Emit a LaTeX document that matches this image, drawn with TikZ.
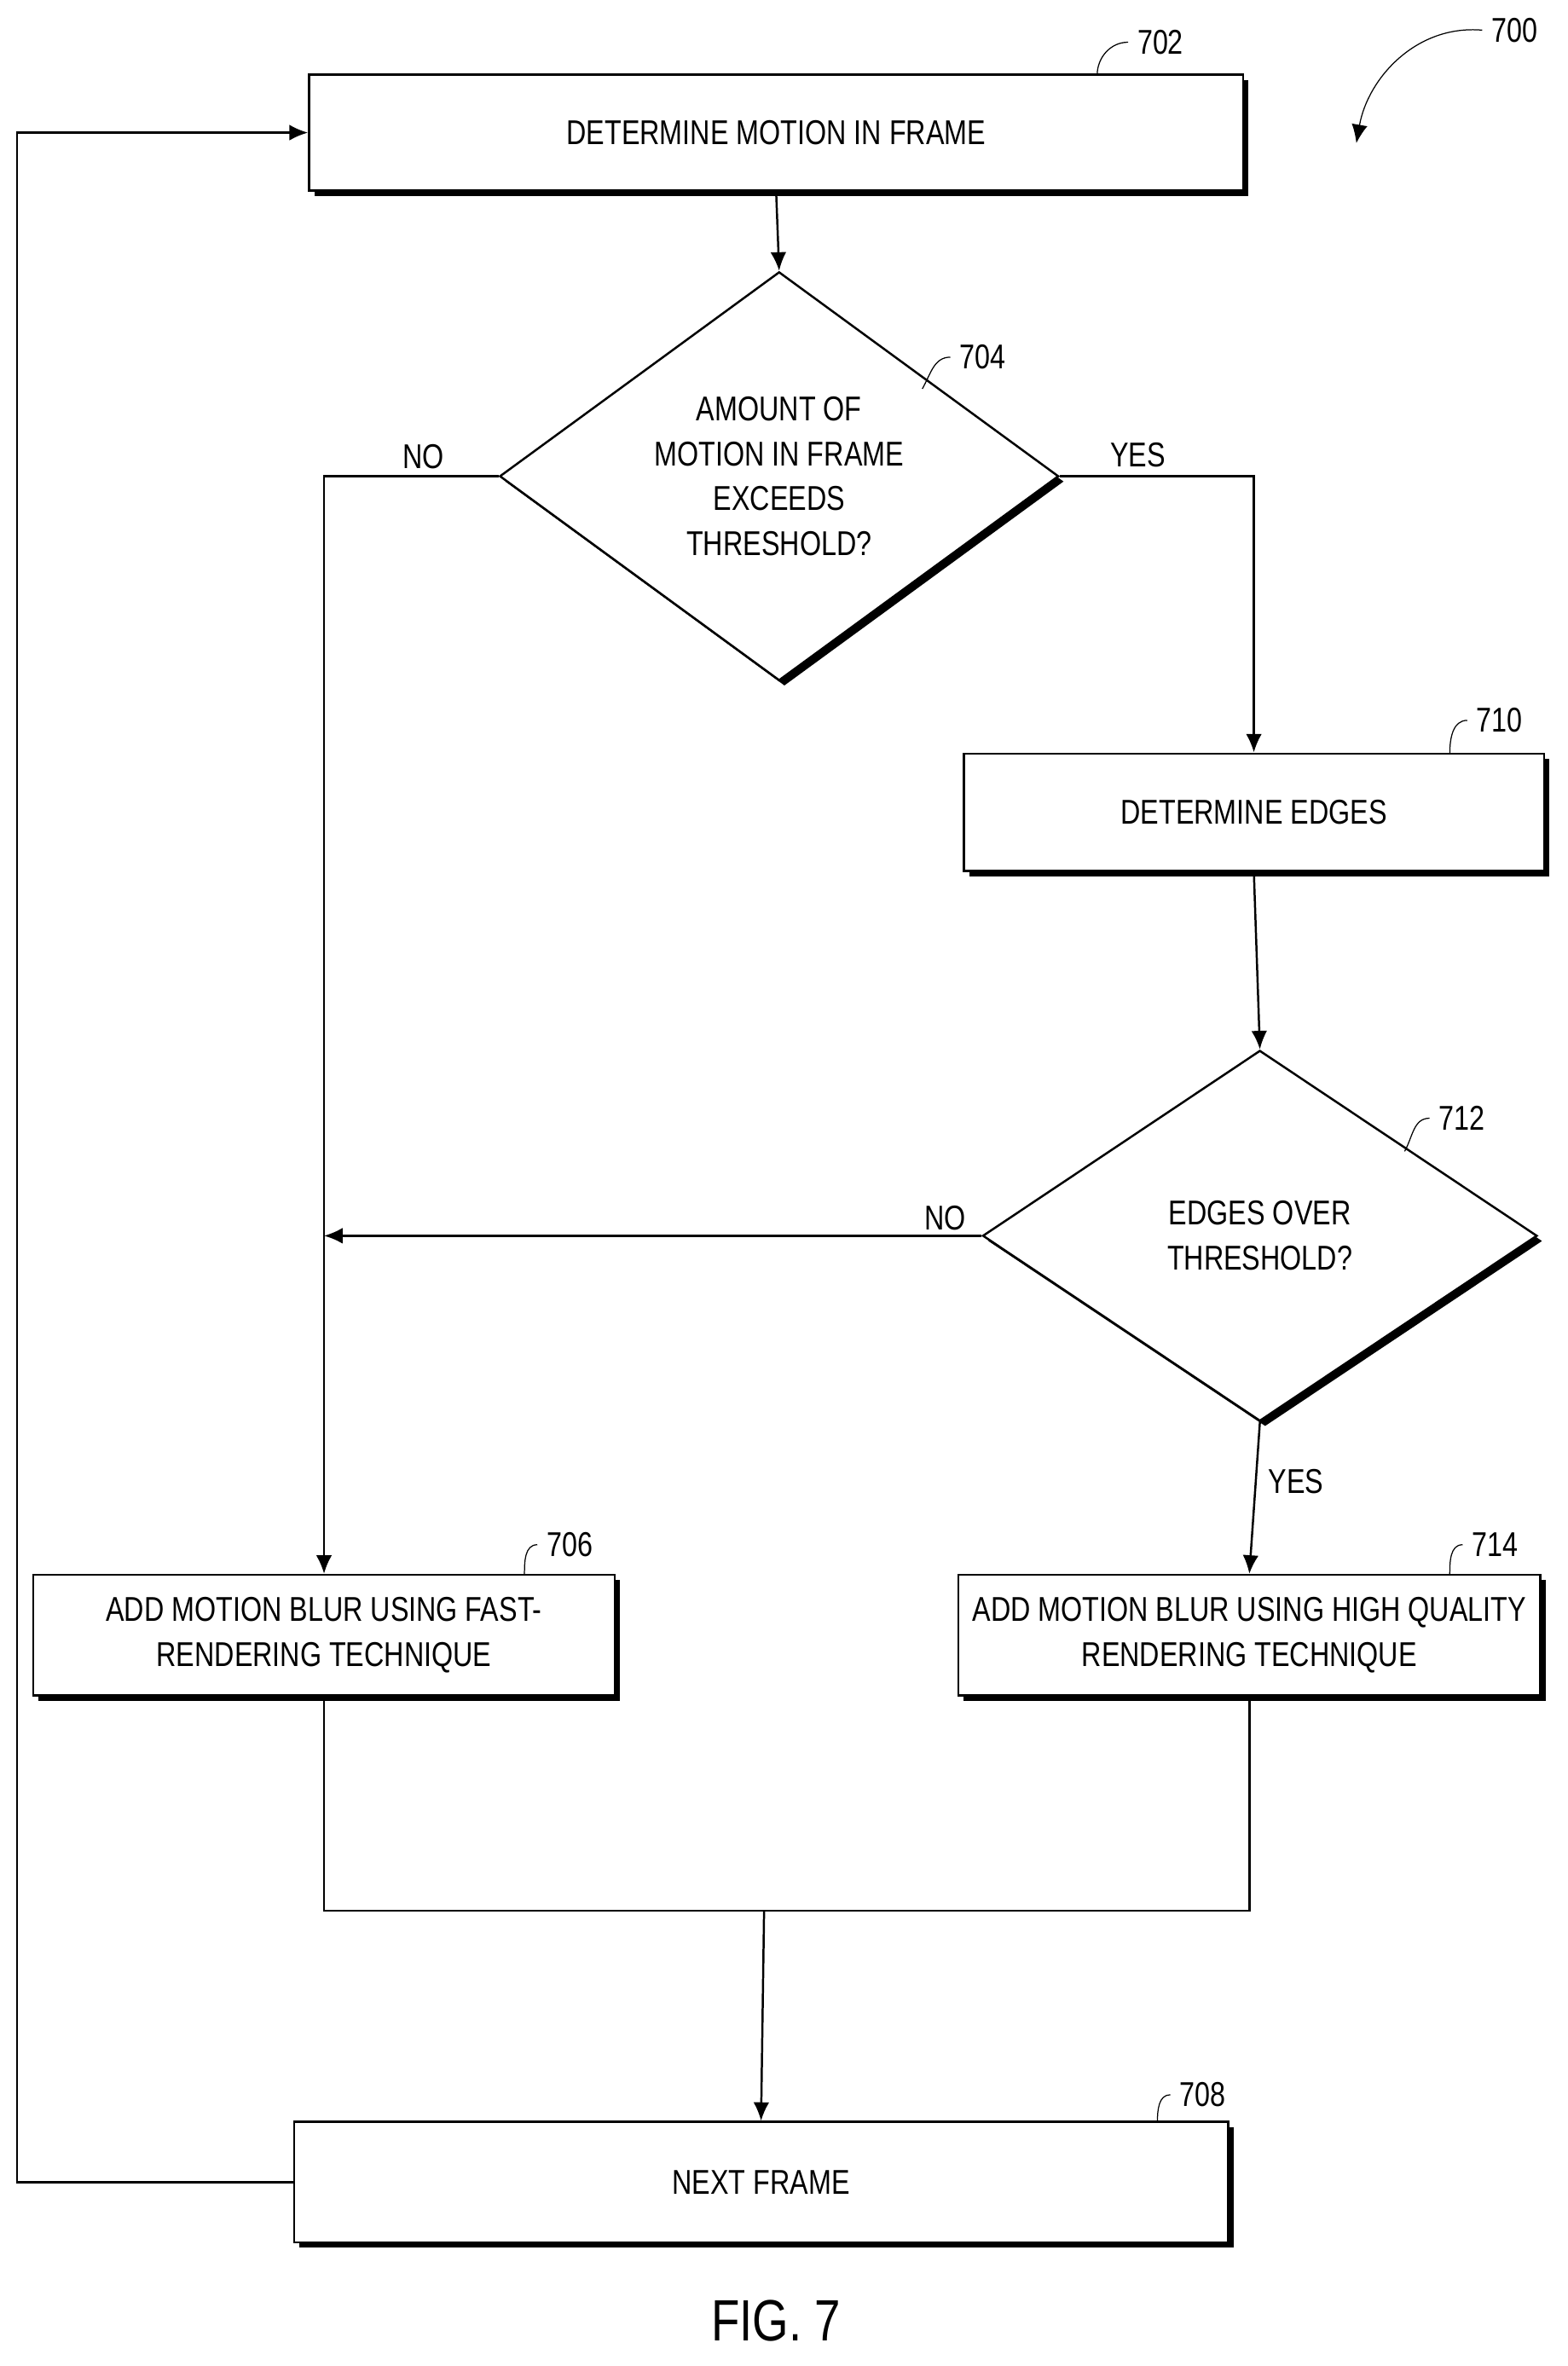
\documentclass[tikz,border=0pt]{standalone}
\usepackage{fontspec}
\setmainfont{Liberation Sans}[FakeStretch=0.8]
\usetikzlibrary{shapes.geometric, arrows.meta, positioning, shadows}

\tikzset{
    action/.style={draw, thick, fill=white, rectangle, inner sep=2pt, align=center,
        font=\fontsize{13}{17}\selectfont,
        drop shadow={fill=black, opacity=1, shadow xshift=0.07cm, shadow yshift=-0.07cm}},
    test/.style={draw, thick, fill=white, diamond, inner sep=0pt, align=center,
        font=\fontsize{13}{17}\selectfont,
        drop shadow={fill=black, opacity=1, shadow xshift=0.07cm, shadow yshift=-0.07cm}},
    flow/.style={thick, -{Latex[length=7pt,width=6pt]}},
    ref/.style={font=\fontsize{13}{15}\selectfont},
    lbl/.style={font=\fontsize{13}{15}\selectfont}
}

\begin{document}
\begin{tikzpicture}[x=0.02cm, y=-0.02cm]
\useasboundingbox (0,0) rectangle (1040,1570);

% Steps
\node[action, minimum width=12.4cm, minimum height=1.54cm] (motion) at (515,88) {DETERMINE MOTION IN FRAME};
\node[test, minimum width=7.42cm, minimum height=4.94cm] (amount) at (517,316) {AMOUNT OF\\MOTION IN FRAME\\EXCEEDS\\THRESHOLD?};
\node[action, minimum width=7.7cm, minimum height=1.56cm] (edges) at (832,539) {DETERMINE EDGES};
\node[test, minimum width=7.36cm, minimum height=4.92cm] (over) at (836,820) {EDGES OVER\\THRESHOLD?};
\node[action, minimum width=7.72cm, minimum height=1.6cm] (fast) at (215,1085) {ADD MOTION BLUR USING FAST-\\RENDERING TECHNIQUE};
\node[action, minimum width=7.72cm, minimum height=1.6cm] (hq) at (829,1085) {ADD MOTION BLUR USING HIGH QUALITY\\RENDERING TECHNIQUE};
\node[action, minimum width=12.4cm, minimum height=1.6cm] (next) at (505,1448) {NEXT FRAME};

% Connectors
\coordinate (merge) at (507,1268);
\draw[flow] (motion.south) -- (amount.north);
\draw[flow] (amount.west) -| (fast.north);
\draw[flow] (amount.east) -| (edges.north);
\draw[flow] (edges.south) -- (over.north);
\draw[flow] (over.west) -- (fast.north |- over.west);
\draw[flow] (over.south) -- (hq.north);
\draw[thick] (fast.south) |- (merge) -| (hq.south);
\draw[flow] (merge) -- (next.north);
\draw[flow] (next.west) -- ++(-183,0) |- (motion.west);

\node[lbl] (no1) at (281,303) {NO};
\node[lbl] (yes1) at (755,302) {YES};
\node[lbl] (no2) at (627,808) {NO};
\node[lbl] (yes2) at (860,983) {YES};

% Reference numerals
\node[ref] (r702) at (770,28) {702};
\node[ref] (r704) at (652,237) {704};
\node[ref] (r710) at (995,478) {710};
\node[ref] (r712) at (970,742) {712};
\node[ref] (r706) at (378,1025) {706};
\node[ref] (r714) at (992,1025) {714};
\node[ref] (r708) at (798,1390) {708};
\node[ref] (r700) at (1005,20) {700};
\draw (r702.west) to[out=180,in=90] (728,50);
\draw (r704.west) to[out=180,in=60] (612,258);
\draw (r710.west) to[out=180,in=90] (962,500);
\draw (r712.west) to[out=180,in=60] (932,764);
\draw (r706.west) to[out=180,in=90] (348,1045);
\draw (r714.west) to[out=180,in=90] (962,1045);
\draw (r708.west) to[out=180,in=90] (768,1408);
\draw[-{Latex[length=7pt,width=6pt]}] (r700.west) to[out=175,in=80] (900,95);

\node[font=\fontsize{22}{24}\selectfont] (fig) at (515,1540) {FIG. 7};
\end{tikzpicture}
\end{document}
